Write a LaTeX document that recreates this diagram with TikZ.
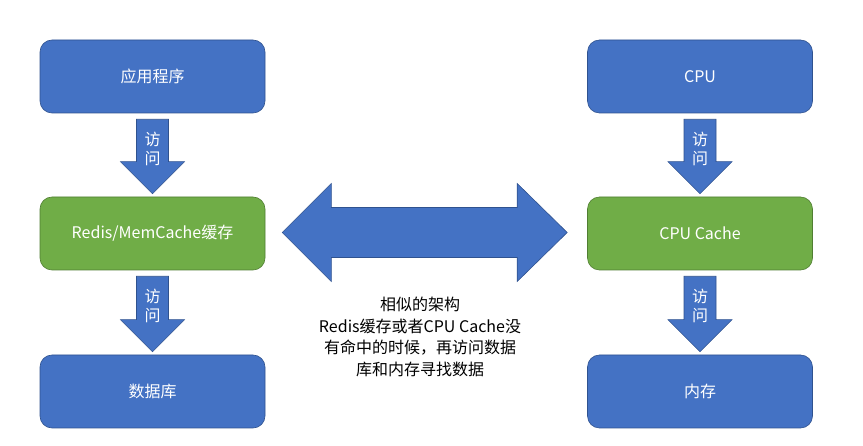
\documentclass[tikz,border=0pt]{standalone}
\usepackage{fontspec}
\setmainfont{Noto Sans CJK SC}
\usetikzlibrary{calc}

\definecolor{boxblue}{HTML}{4472C4}
\definecolor{boxblueline}{HTML}{2F528F}
\definecolor{boxgreen}{HTML}{70AD47}
\definecolor{boxgreenline}{HTML}{507E32}

% block arrow pointing down from node #1 to node #2
\newcommand{\accessarrow}[3]{%
    \coordinate (#3top) at ($(#1.south)+(0,6)$);
    \coordinate (#3tip) at ($(#2.north)+(0,-3)$);
    \filldraw[blockarrow] ($(#3top)+(-16,0)$) -- ($(#3top)+(16,0)$) -- ($(#3tip)+(16,-32)$)
        -- ($(#3tip)+(32,-32)$) -- (#3tip) -- ($(#3tip)+(-32,-32)$) -- ($(#3tip)+(-16,-32)$) -- cycle;
    \node[arrowtext] (#3label) at ($(#3top)+(0,30)$) {访\\问};
}

\begin{document}
\begin{tikzpicture}[x=1pt, y=-1pt,
        box/.style={rounded corners=12pt, minimum width=225pt, minimum height=73pt,
                text=white, font=\fontsize{16}{19}\selectfont, line width=0.6pt},
        bluebox/.style={box, fill=boxblue, draw=boxblueline},
        greenbox/.style={box, fill=boxgreen, draw=boxgreenline},
        blockarrow/.style={fill=boxblue, draw=boxblueline, line width=0.6pt},
        arrowtext/.style={text=white, align=center, font=\fontsize{16}{19}\selectfont, inner sep=0pt}]
    \useasboundingbox (0,0) rectangle (863,446);

    % Application side
    \node[bluebox] (app) at (152.5,76.5) {应用程序};
    \node[greenbox] (redis) at (152.5,233.5) {Redis/MemCache缓存};
    \node[bluebox] (db) at (152.5,391.5) {数据库};

    % CPU side
    \node[bluebox] (cpu) at (700,76.5) {CPU};
    \node[greenbox] (cache) at (700,233.5) {CPU Cache};
    \node[bluebox] (mem) at (700,391.5) {内存};

    % Access arrows
    \accessarrow{app}{redis}{a}
    \accessarrow{redis}{db}{b}
    \accessarrow{cpu}{cache}{c}
    \accessarrow{cache}{mem}{d}

    % Double arrow between the two caches
    \coordinate (ltip) at ($(redis.east)+(17,-1)$);
    \coordinate (rtip) at ($(cache.west)+(-20,-1)$);
    \filldraw[blockarrow] (ltip) -- ($(ltip)+(49,-49)$) -- ($(ltip)+(49,-25)$) -- ($(rtip)+(-50,-25)$)
        -- ($(rtip)+(-50,-49)$) -- (rtip) -- ($(rtip)+(-50,49)$) -- ($(rtip)+(-50,25)$)
        -- ($(ltip)+(49,25)$) -- ($(ltip)+(49,49)$) -- cycle;

    \node[align=center, font=\fontsize{16}{21.5}\selectfont] (note) at (420,337)
        {相似的架构\\Redis缓存或者CPU Cache没\\有命中的时候，再访问数据\\库和内存寻找数据};
\end{tikzpicture}
\end{document}
